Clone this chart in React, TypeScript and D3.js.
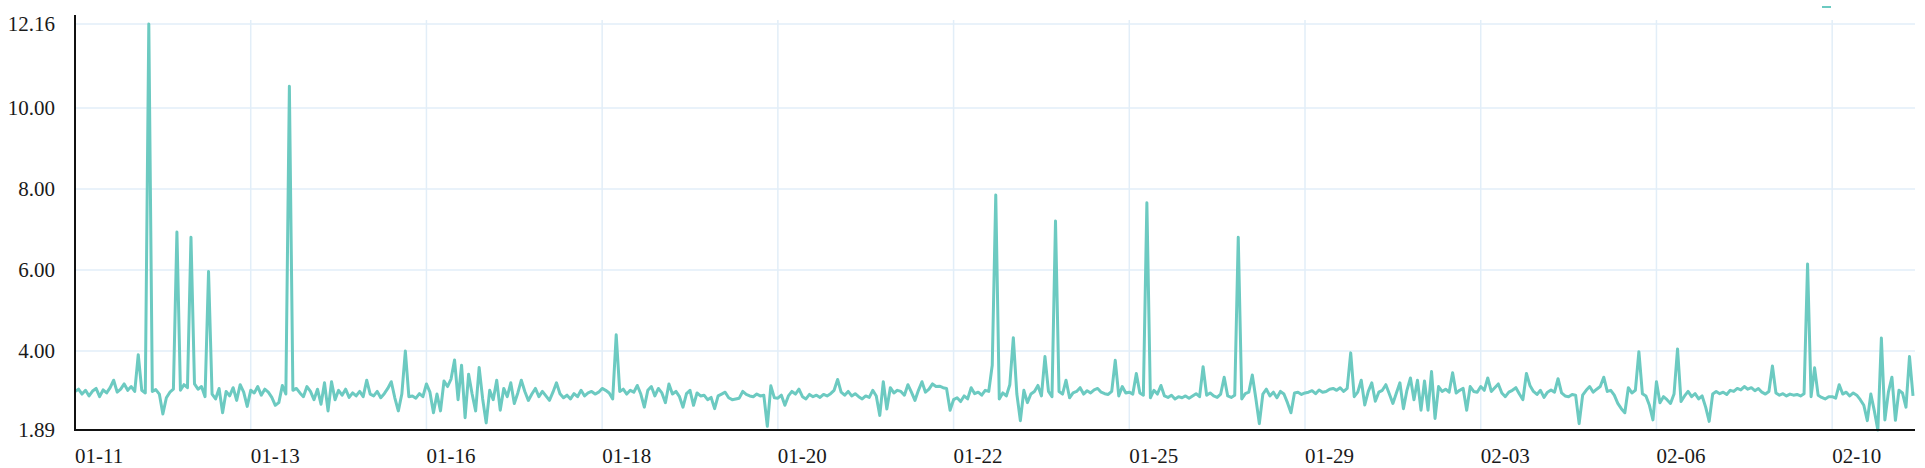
import { useEffect, useRef } from "react";
import * as d3 from "d3";

// tick labels on the x axis, one every 50 samples
const xLabels = ["01-11", "01-13", "01-16", "01-18", "01-20", "01-22", "01-25", "01-29", "02-03", "02-06", "02-10"];
const yTicks = [1.89, 4, 6, 8, 10, 12.16];

// samples, split by the label they start at
const day0111 = [
  2.92, 2.98, 2.85, 2.95, 2.8, 2.93, 3.0, 2.78, 2.96, 2.88,
  3.02, 3.22, 2.9, 2.98, 3.12, 2.95, 3.05, 2.92, 3.9, 2.95,
  2.88, 12.16, 2.92, 2.97, 2.85, 2.32, 2.75, 2.9, 2.98, 6.94,
  2.95, 3.1, 3.02, 6.81, 3.12, 2.98, 3.05, 2.78, 5.96, 2.85,
  2.72, 3.0, 2.35, 2.92, 2.8, 3.02, 2.68, 3.1, 2.9, 2.52,
];
const day0113 = [
  2.95, 2.88, 3.05, 2.82, 2.98, 2.9, 2.76, 2.55, 2.62, 3.08,
  2.85, 10.56, 2.95, 3.0, 2.88, 2.78, 3.05, 2.92, 2.7, 2.98,
  2.58, 3.15, 2.4, 3.18, 2.7, 2.95, 2.82, 2.98, 2.76, 2.88,
  2.8, 2.92, 2.78, 3.22, 2.85, 2.8, 2.92, 2.75, 2.86, 3.0,
  3.18, 2.75, 2.4, 2.85, 4.0, 2.78, 2.8, 2.74, 2.86, 2.78,
];
const day0116 = [
  3.12, 2.9, 2.35, 2.85, 2.4, 3.2, 3.05, 3.25, 3.76, 2.7,
  3.62, 2.22, 3.38, 2.85, 2.4, 3.56, 2.72, 2.08, 2.95, 2.7,
  3.22, 2.42, 3.0, 2.78, 3.15, 2.6, 2.88, 3.22, 2.92, 2.68,
  2.85, 3.0, 2.78, 2.92, 2.8, 2.68, 2.9, 3.15, 2.86, 2.75,
  2.82, 2.72, 2.86, 2.78, 2.95, 2.8, 2.88, 2.92, 2.85, 2.9,
];
const day0118 = [
  3.0, 2.95, 2.88, 2.72, 4.4, 2.92, 2.98, 2.85, 2.95, 2.9,
  3.08, 2.85, 2.5, 2.95, 3.05, 2.8, 3.0, 2.88, 2.62, 3.12,
  2.85, 2.92, 2.78, 2.5, 2.86, 2.95, 2.55, 2.88, 2.8, 2.82,
  2.7, 2.76, 2.46, 2.8, 2.85, 2.9, 2.75, 2.7, 2.72, 2.74,
  2.92, 2.84, 2.8, 2.78, 2.85, 2.8, 2.82, 1.99, 3.07, 2.75,
];
const day0120 = [
  2.74, 2.82, 2.55, 2.8, 2.92, 2.85, 2.98, 2.78, 2.72, 2.84,
  2.78, 2.82, 2.76, 2.84, 2.8, 2.86, 2.95, 3.24, 2.9, 2.82,
  2.92, 2.8, 2.86, 2.78, 2.72, 2.8, 2.76, 2.95, 2.8, 2.28,
  3.18, 2.45, 3.02, 2.88, 2.95, 2.92, 2.82, 3.1, 2.9, 2.68,
  2.95, 3.18, 2.9, 2.98, 3.12, 3.05, 3.06, 3.02, 3.0, 2.42,
];
const day0122 = [
  2.7, 2.75, 2.65, 2.8, 2.72, 3.02, 2.86, 2.9, 2.82, 2.95,
  2.92, 3.62, 7.85, 2.72, 2.88, 2.8, 3.1, 4.33, 2.85, 2.14,
  2.95, 2.62, 2.85, 2.92, 3.08, 2.8, 3.85, 2.92, 2.78, 7.21,
  2.92, 2.85, 3.22, 2.75, 2.88, 2.92, 3.02, 2.85, 2.94, 2.88,
  2.96, 3.0, 2.9, 2.86, 2.84, 2.92, 3.75, 2.8, 3.05, 2.88,
];
const day0125 = [
  2.9, 2.85, 3.4, 2.88, 2.82, 7.66, 2.75, 2.95, 2.85, 3.08,
  2.8, 2.76, 2.82, 2.72, 2.78, 2.75, 2.8, 2.74, 2.8, 2.86,
  2.78, 3.58, 2.82, 2.88, 2.8, 2.76, 2.85, 3.3, 2.8, 2.76,
  2.82, 6.81, 2.72, 2.86, 2.9, 3.36, 2.74, 2.06, 2.85, 2.98,
  2.8, 2.9, 2.75, 2.92, 2.85, 2.62, 2.35, 2.88, 2.9, 2.84,
];
const day0129 = [
  2.88, 2.9, 2.94, 2.86, 2.96, 2.9, 2.92, 2.98, 3.0, 2.95,
  3.02, 2.92, 3.0, 3.95, 2.78, 2.9, 3.22, 2.56, 2.92, 3.15,
  2.66, 2.9, 2.95, 3.1, 2.85, 2.6, 2.88, 3.15, 2.46, 2.95,
  3.28, 2.7, 3.22, 2.42, 3.2, 2.42, 3.45, 2.2, 3.05, 2.92,
  2.98, 2.9, 3.42, 2.88, 2.95, 3.0, 2.42, 3.05, 2.92, 2.9,
];
const day0203 = [
  3.05, 2.95, 3.28, 2.92, 3.02, 3.12, 2.88, 2.78, 2.9, 2.95,
  3.02, 2.85, 2.7, 3.4, 3.08, 2.92, 2.84, 2.95, 2.76, 2.9,
  2.96, 2.9, 3.26, 2.88, 2.8, 2.78, 2.84, 2.82, 2.06, 2.82,
  2.95, 3.05, 2.9, 2.98, 3.05, 3.3, 2.92, 2.95, 2.82, 2.6,
  2.46, 2.35, 3.02, 2.88, 2.95, 3.98, 2.86, 2.8, 2.55, 2.16,
];
const day0206 = [
  3.18, 2.62, 2.78, 2.7, 2.6, 2.85, 4.05, 2.65, 2.8, 2.92,
  2.78, 2.86, 2.72, 2.8, 2.5, 2.12, 2.85, 2.92, 2.86, 2.9,
  2.84, 2.95, 2.92, 3.0, 2.96, 3.05, 2.98, 3.02, 2.94, 3.0,
  2.9, 2.85, 2.92, 3.6, 2.88, 2.82, 2.86, 2.8, 2.85, 2.82,
  2.84, 2.8, 2.86, 6.15, 2.78, 3.55, 2.82, 2.76, 2.72, 2.78,
];
const day0210 = [
  2.78, 2.74, 3.1, 2.85, 2.9, 2.8, 2.88, 2.82, 2.7, 2.55,
  2.14, 2.85, 2.4, 1.89, 4.32, 2.16, 2.9, 3.3, 2.15, 2.95,
  2.88, 2.5, 3.85, 2.8,
];

const series = [
  ...day0111, ...day0113, ...day0116, ...day0118, ...day0120, ...day0122,
  ...day0125, ...day0129, ...day0203, ...day0206, ...day0210,
];
const labelEvery = 50;

export default function App() {
  const chartRef = useRef(null);

  useEffect(() => {
    const width = 1925;
    const height = 468;
    const left = 75;
    const right = 1913;
    const bottom = 430;
    const font = "'Liberation Serif', 'DejaVu Serif', serif";
    const gridColor = "#e2eef8";

    document.body.style.margin = "0";
    const root = d3.select(chartRef.current);
    root.selectAll("*").remove();

    const svg = root
      .append("svg")
      .attr("width", width)
      .attr("height", height)
      .style("display", "block")
      .style("background", "#ffffff");

    const x = d3.scaleLinear().domain([0, series.length - 1]).range([left, right]);
    // the axis spacing in the picture is not quite even, so pin the ticks
    const y = d3.scaleLinear().domain([1.89, 4, 10, 12.16]).range([bottom, 351, 108, 24]);

    // grid
    svg
      .selectAll("line.hgrid")
      .data(yTicks.slice(1))
      .enter()
      .append("line")
      .attr("class", "hgrid")
      .attr("x1", left)
      .attr("x2", 1915)
      .attr("y1", (d) => y(d))
      .attr("y2", (d) => y(d))
      .attr("stroke", gridColor)
      .attr("stroke-width", 1.5);

    svg
      .selectAll("line.vgrid")
      .data(xLabels.slice(1))
      .enter()
      .append("line")
      .attr("class", "vgrid")
      .attr("x1", (d, i) => x((i + 1) * labelEvery))
      .attr("x2", (d, i) => x((i + 1) * labelEvery))
      .attr("y1", 20)
      .attr("y2", bottom)
      .attr("stroke", gridColor)
      .attr("stroke-width", 1.5);

    // the line
    const line = d3
      .line()
      .x((d, i) => x(i))
      .y((d) => y(d));

    svg
      .append("path")
      .datum(series)
      .attr("fill", "none")
      .attr("stroke", "#6ccac1")
      .attr("stroke-width", 3)
      .attr("stroke-linejoin", "round")
      .attr("d", line);

    // axes
    svg
      .append("line")
      .attr("x1", left)
      .attr("x2", left)
      .attr("y1", 15)
      .attr("y2", bottom + 1)
      .attr("stroke", "#111")
      .attr("stroke-width", 2);

    svg
      .append("line")
      .attr("x1", left - 1)
      .attr("x2", 1915)
      .attr("y1", bottom)
      .attr("y2", bottom)
      .attr("stroke", "#111")
      .attr("stroke-width", 2);

    const g = svg.append("g").attr("font-family", font).attr("font-size", 21).attr("fill", "#1a1a1a");

    g.selectAll("text.ylab")
      .data(yTicks)
      .enter()
      .append("text")
      .attr("class", "ylab")
      .attr("x", 55)
      .attr("y", (d) => y(d))
      .attr("dy", "0.35em")
      .attr("text-anchor", "end")
      .text((d) => d.toFixed(2));

    g.selectAll("text.xlab")
      .data(xLabels)
      .enter()
      .append("text")
      .attr("class", "xlab")
      .attr("x", (d, i) => x(i * labelEvery))
      .attr("y", 463)
      .attr("text-anchor", "start")
      .text((d) => d);

    // legend stub peeking in at the top right
    svg
      .append("line")
      .attr("x1", 1822)
      .attr("x2", 1831)
      .attr("y1", 7)
      .attr("y2", 7)
      .attr("stroke", "#6ccac1")
      .attr("stroke-width", 2);
  }, []);

  return <div ref={chartRef}></div>;
}
